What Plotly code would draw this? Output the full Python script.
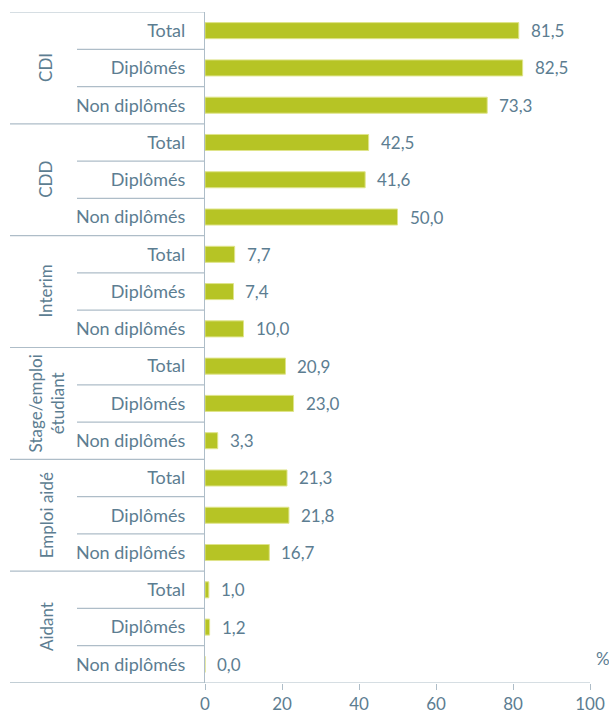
import plotly.graph_objects as go

groups = ["CDI", "CDD", "Interim", "Stage/emploi<br>étudiant", "Emploi aidé", "Aidant"]
subcats = ["Total", "Diplômés", "Non diplômés"]
values = [
    [81.5, 82.5, 73.3],
    [42.5, 41.6, 50.0],
    [7.7, 7.4, 10.0],
    [20.9, 23.0, 3.3],
    [21.3, 21.8, 16.7],
    [1.0, 1.2, 0.0],
]
x_ticks = [0, 20, 40, 60, 80, 100]

BAR = "#b6c425"
TXT = "#5c7d91"
LINE = "#aebdc8"
FONT = "Lato"

W, H = 609, 715
ML, MR, MT, MB = 205, 19, 12, 32
pw = W - ML - MR

ys, xs, labels = [], [], []
i = 0
for g, vals in zip(groups, values):
    for s, v in zip(subcats, vals):
        ys.append(i)
        xs.append(v)
        labels.append(s)
        i += 1
n = len(ys)

fig = go.Figure()
fig.add_trace(go.Bar(
    x=xs, y=ys, orientation="h",
    marker=dict(color=BAR, line=dict(color="#dfe48a", width=1)),
    width=0.43,
    hoverinfo="skip",
))

anns = []
for x, y in zip(xs, ys):
    anns.append(dict(x=x, y=y, xref="x", yref="y", text=f"{x:.1f}".replace(".", ","),
                     showarrow=False, xanchor="left", yanchor="middle", xshift=10,
                     font=dict(family=FONT, size=17, color=TXT)))
for gi, g in enumerate(groups):
    anns.append(dict(x=(46 - ML) / pw, y=gi * 3 + 1, xref="paper", yref="y", text=g,
                     showarrow=False, textangle=-90, xanchor="center", yanchor="middle",
                     font=dict(family=FONT, size=17, color=TXT)))
anns.append(dict(x=(603 - ML) / pw, y=16.85, xref="paper", yref="y", text="%",
                 showarrow=False, xanchor="center", yanchor="middle",
                 font=dict(family=FONT, size=17, color=TXT)))

shapes = []
for k in range(len(groups) + 1):
    yy = k * 3 - 0.5
    shapes.append(dict(type="line", xref="paper", yref="y", x0=(10 - ML) / pw, x1=0,
                       y0=yy, y1=yy, line=dict(color=LINE, width=1.2)))
for gi in range(len(groups)):
    for j in (0.5, 1.5):
        yy = gi * 3 + j
        shapes.append(dict(type="line", xref="paper", yref="y", x0=(77 - ML) / pw, x1=0,
                           y0=yy, y1=yy, line=dict(color=LINE, width=1.2)))
shapes.append(dict(type="line", xref="paper", yref="y", x0=(10 - ML) / pw, x1=1,
                   y0=n - 0.5, y1=n - 0.5, line=dict(color=LINE, width=1.2)))

fig.update_layout(
    width=W, height=H,
    margin=dict(l=ML, r=MR, t=MT, b=MB),
    plot_bgcolor="white", paper_bgcolor="white",
    showlegend=False,
    annotations=anns, shapes=shapes,
    xaxis=dict(range=[0, 100], tickvals=x_ticks, ticktext=[str(t) for t in x_ticks],
               showgrid=False, zeroline=False, showline=False,
               ticks="outside", ticklen=6, tickcolor=LINE, tickwidth=1.2,
               ticklabelstandoff=0,
               tickfont=dict(family=FONT, size=17, color=TXT), automargin=False),
    yaxis=dict(range=[n - 0.5, -0.5], tickvals=ys, ticktext=labels,
               showgrid=False, zeroline=False, showline=True, linecolor=LINE, linewidth=1.2,
               ticks="", ticklabelstandoff=15, automargin=False,
               tickfont=dict(family=FONT, size=18, color=TXT)),
)

fig.write_html("out.html", config={"displayModeBar": False},
               post_script="document.body.style.margin='0';document.body.style.overflow='hidden';")
